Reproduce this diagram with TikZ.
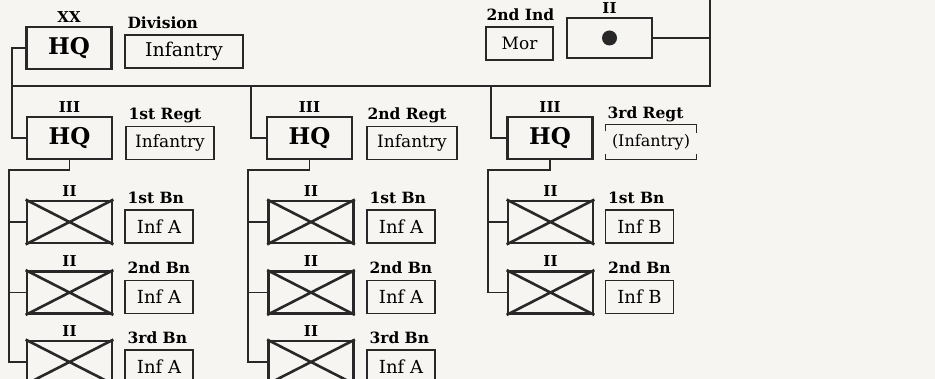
\documentclass[tikz,border=0pt]{standalone}
\usepackage{fontspec}
\setmainfont{DejaVu Serif}
\usetikzlibrary{positioning}
\definecolor{paper}{RGB}{246,245,241}
\definecolor{ink}{RGB}{40,40,40}
\begin{document}
\begin{tikzpicture}[x=1pt, y=-1pt,
    unit/.style={draw=ink, line width=2.8pt, minimum width=85pt, minimum height=42pt,
        inner sep=0pt, font=\fontsize{23}{23}\selectfont\bfseries},
    tag/.style={draw=ink, line width=1.3pt, minimum height=33pt, inner sep=0pt,
        font=\fontsize{17}{17}\selectfont},
    echelon/.style={inner sep=0pt, font=\fontsize{15}{15}\selectfont\bfseries},
    title/.style={inner sep=0pt, anchor=base west, font=\fontsize{15.5}{15.5}\selectfont\bfseries},
    link/.style={draw=ink, line width=1.3pt},
    cross/.style={draw=ink, line width=2.6pt}
]
    \fill[paper] (0,0) rectangle (935,379);
    \useasboundingbox (0,0) rectangle (935,379);
    \clip (0,0) rectangle (935,379);

    % division
    \node[unit] (divhq) at (69,48) {HQ};
    \node[echelon, above=3pt of divhq] (divech) {XX};
    \node[tag, minimum width=118pt, font=\fontsize{19}{19}\selectfont] (divtag) at (184,51.5) {Infantry};
    \node[title] (divname) at ([xshift=3pt, yshift=6pt]divtag.north west) {Division};

    % attached support
    \node[unit, minimum height=40pt] (supp) at (609.5,38) {};
    \fill[ink] (supp.center) circle (7.5pt);
    \node[echelon, above=3pt of supp] (suppech) {II};
    \node[tag, minimum width=67pt] (mortag) at (519.5,43.5) {Mor};
    \node[title] (morname) at ([xshift=1pt, yshift=6pt]mortag.north west) {2nd Ind};

    % regiments
    \node[unit] (hq1) at (69.5,138) {HQ};
    \node[unit] (hq2) at (309.5,138) {HQ};
    \node[unit] (hq3) at (550,138) {HQ};
    \node[echelon, above=3pt of hq1] {III};
    \node[echelon, above=3pt of hq2] {III};
    \node[echelon, above=3pt of hq3] {III};
    \node[tag, minimum width=88pt] (tag1) at (170,143) {Infantry};
    \node[tag, minimum width=90pt] (tag2) at (412,143) {Infantry};
    \node[tag, draw=none, minimum width=90pt, minimum height=34pt, font=\fontsize{16}{16}\selectfont] (tag3) at (651,142) {(Infantry)};
    \draw[link] ([yshift=-7pt]tag3.north west) -- (tag3.north west) -- (tag3.north east) -- ([yshift=-9pt]tag3.north east);
    \draw[link] ([yshift=6pt]tag3.south west) -- (tag3.south west) -- (tag3.south east) -- ([yshift=6pt]tag3.south east);
    \node[title] at ([xshift=3pt, yshift=6pt]tag1.north west) {1st Regt};
    \node[title] at ([xshift=1pt, yshift=6pt]tag2.north west) {2nd Regt};
    \node[title] at ([xshift=2pt, yshift=6pt]tag3.north west) {3rd Regt};

    % battalions: name/box x/tag x/row y/label/tag text
    \foreach \nm/\bx/\tx/\y/\lab/\inf in {
        bn11/69.5/159/222/1st Bn/Inf A, bn12/69.5/159/292.5/2nd Bn/Inf A, bn13/69.5/159/362/3rd Bn/Inf A,
        bn21/311/401/222/1st Bn/Inf A, bn22/311/401/292.5/2nd Bn/Inf A, bn23/311/401/362/3rd Bn/Inf A,
        bn31/550.5/639.5/222/1st Bn/Inf B, bn32/550.5/639.5/292.5/2nd Bn/Inf B}
    {
        \node[unit] (\nm) at (\bx,\y) {};
        \draw[cross] (\nm.north west) -- (\nm.south east) (\nm.south west) -- (\nm.north east);
        \node[echelon, above=3pt of \nm] {II};
        \node[tag, minimum width=68pt, font=\fontsize{18}{18}\selectfont] (\nm tag) at (\tx,\y+4.5) {\inf};
        \node[title] at ([xshift=3pt, yshift=6pt]\nm tag.north west) {\lab};
    }

    % command lines
    \coordinate (top) at (710,0);
    \coordinate (busR) at (710,86);
    \coordinate (busL) at (12,86);
    \coordinate (bus2) at (251,86);
    \coordinate (bus3) at (491,86);
    \draw[link] (top) -- (busR) -- (busL);
    \draw[link] (supp.east) -- (supp.east -| top);
    \draw[link] (divhq.west) -- (divhq.west -| busL) |- (hq1.west);
    \draw[link] (bus2) |- (hq2.west);
    \draw[link] (bus3) |- (hq3.west);

    \coordinate (spine1) at (9,170);
    \coordinate (spine2) at (248,170);
    \coordinate (spine3) at (488,170);
    \draw[link] (hq1.south) |- (spine1) |- (bn13.west);
    \draw[link] (bn11.west) -- (bn11.west -| spine1);
    \draw[link] (bn12.west) -- (bn12.west -| spine1);
    \draw[link] (hq2.south) |- (spine2) |- (bn23.west);
    \draw[link] (bn21.west) -- (bn21.west -| spine2);
    \draw[link] (bn22.west) -- (bn22.west -| spine2);
    \draw[link] (hq3.south) |- (spine3) |- (bn32.west);
    \draw[link] (bn31.west) -- (bn31.west -| spine3);
\end{tikzpicture}
\end{document}
